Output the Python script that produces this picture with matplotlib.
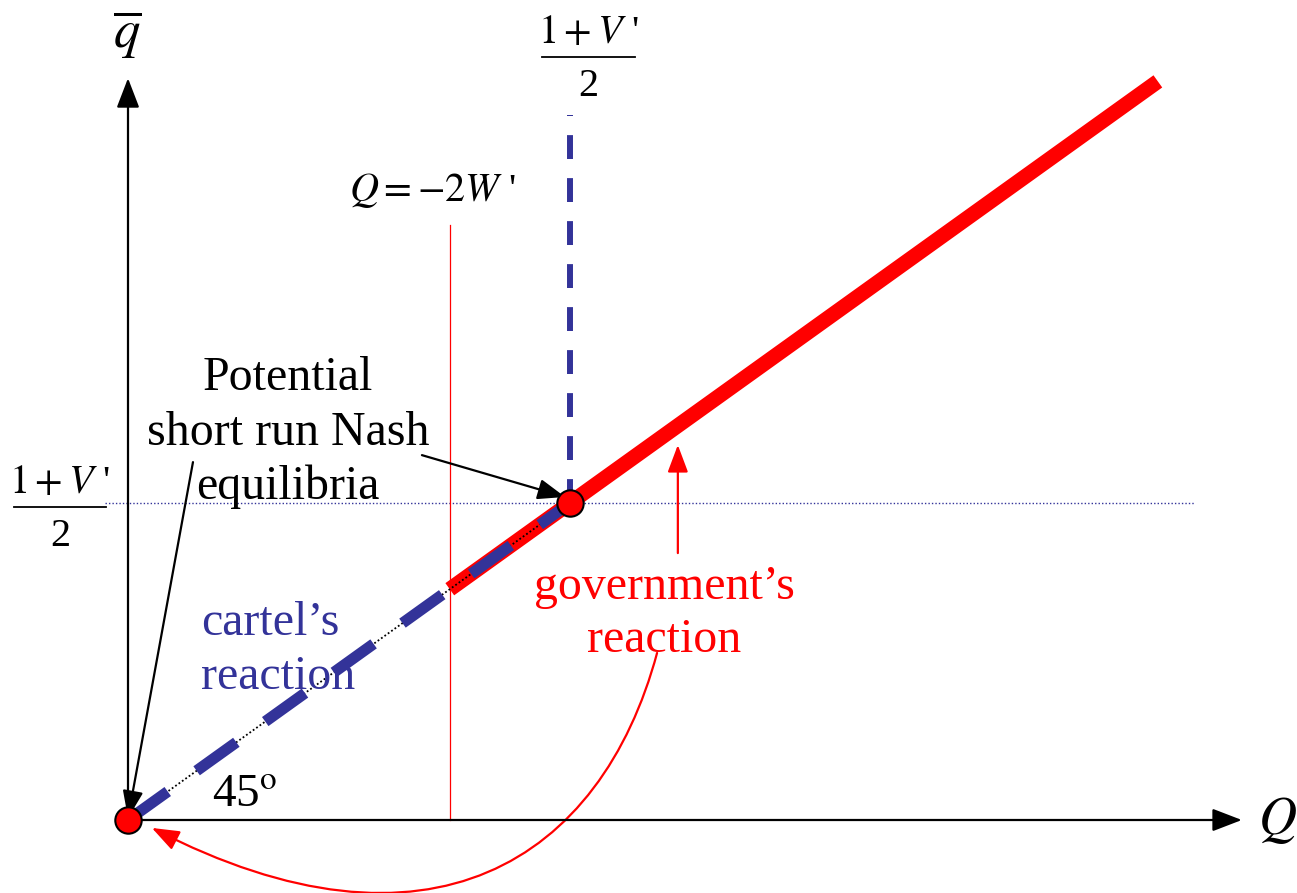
import matplotlib.pyplot as plt
from matplotlib.patches import FancyArrowPatch
from matplotlib.path import Path

plt.rcParams["font.family"] = ["Liberation Serif", "DejaVu Serif"]
plt.rcParams["mathtext.fontset"] = "stix"

BLUE = "#333399"
RED = "#ff0000"

# Data units: the Nash point sits at (1, 1), the 45 degree line is q = Q
axis_x_end = 2.52
axis_y_end = 2.34

cartel_x = [0.0, 1.0]
cartel_y = [0.0, 1.0]

gov_x = [0.728, 2.33]
gov_y = [0.728, 2.33]

constraint_x = [0.728, 0.728]
constraint_y = [0.0, 1.877]

nash_vert_x = [1.0, 1.0]
nash_vert_y = [1.0, 2.224]

nash_horiz_x = [-0.052, 2.414]
nash_horiz_y = [1.0, 1.0]

equilibria_x = [0.0, 1.0]
equilibria_y = [0.0, 1.0]

# curved arrow from "government's reaction" back to the origin
curve_pts = [(1.197, 0.527), (1.07, -0.13), (0.68, -0.475), (0.054, -0.025)]


def fraction(ax, x, y, num, den, size=29, half_width=0.105):
    # stacked fraction: numerator, bar, denominator
    ax.text(x, y + 0.045, num, fontsize=size, ha="center", va="baseline")
    ax.plot([x - half_width, x + half_width], [y, y], color="black", lw=1.3)
    ax.text(x, y - 0.035, den, fontsize=size, ha="center", va="top")


fig = plt.figure(figsize=(12.97, 8.93), dpi=100)
ax = fig.add_axes([0, 0, 1, 1])
ax.set_xlim(-128 / 442, (1297 - 128) / 442)
ax.set_ylim(-(893 - 820) / 317, 820 / 317)
ax.axis("off")

# axes with arrows
arrow_kw = dict(arrowstyle="-|>,head_length=1.3,head_width=0.5",
                color="black", lw=1.6, mutation_scale=14,
                shrinkA=0, shrinkB=0)
ax.annotate("", xy=(axis_x_end, 0), xytext=(0, 0), arrowprops=arrow_kw)
ax.annotate("", xy=(0, axis_y_end), xytext=(0, 0), arrowprops=arrow_kw)

# reference lines
ax.plot(nash_horiz_x, nash_horiz_y, color=BLUE, lw=1.0,
        linestyle=(0, (1, 1.5)))
ax.plot(constraint_x, constraint_y, color=RED, lw=0.9)
ax.plot(nash_vert_x, nash_vert_y, color=BLUE, lw=4.3,
        linestyle=(0, (4, 3.2)), dash_capstyle="butt")

# reaction functions
ax.plot(gov_x, gov_y, color=RED, lw=10.8, solid_capstyle="butt")
ax.plot(cartel_x, cartel_y, color="black", lw=1.3, linestyle=(0, (1, 1.3)))
ax.plot(cartel_x, cartel_y, color=BLUE, lw=8, linestyle=(0, (4.4, 3.2)),
        dash_capstyle="butt")

# equilibria
ax.plot(equilibria_x, equilibria_y, "o", markersize=19,
        markerfacecolor=RED, markeredgecolor="black",
        markeredgewidth=1.5, zorder=5)

# labels
ax.text(-0.002, 2.476, r"$\overline{q}$", fontsize=38,
        ha="center", va="center")
ax.text(2.6, 0.0, r"$Q$", fontsize=38, ha="center", va="center")
fraction(ax, 1.042, 2.407, r"$1+V$ '", r"2")
fraction(ax, -0.154, 0.987, r"$1+V$ '", r"2")
ax.text(0.69, 1.987, r"$Q=-2W$ '", fontsize=29,
        ha="center", va="center")
ax.text(0.19, 0.01, r"45$^{\rm o}$", fontsize=34,
        ha="left", va="bottom")

ax.text(0.362, 1.221, "Potential\nshort run Nash\nequilibria",
        fontsize=34.5, ha="center", va="center", linespacing=1.3)
ax.text(0.165, 0.536, "cartel\u2019s\nreaction", fontsize=34.5,
        color=BLUE, ha="left", va="center", linespacing=1.3)
ax.text(1.214, 0.652, "government\u2019s\nreaction", fontsize=34.5,
        color=RED, ha="center", va="center", linespacing=1.25)

# annotation arrows
black_kw = dict(arrowstyle="-|>,head_length=1.2,head_width=0.45",
                color="black", lw=1.6, mutation_scale=14,
                shrinkA=0, shrinkB=0)
ax.annotate("", xy=(0.989, 1.019), xytext=(0.665, 1.151),
            arrowprops=black_kw)
ax.annotate("", xy=(0.0, 0.006), xytext=(0.147, 1.129),
            arrowprops=black_kw)

red_kw = dict(arrowstyle="-|>,head_length=1.2,head_width=0.45",
              color=RED, lw=1.6, mutation_scale=14,
              shrinkA=0, shrinkB=0)
ax.annotate("", xy=(1.244, 1.183), xytext=(1.244, 0.842),
            arrowprops=red_kw)

curve = Path(curve_pts, [Path.MOVETO, Path.CURVE4, Path.CURVE4, Path.CURVE4])
ax.add_patch(FancyArrowPatch(path=curve,
                             arrowstyle="-|>,head_length=1.2,head_width=0.45",
                             color=RED, lw=1.6, mutation_scale=14))

fig.savefig("out.png", dpi=100)
plt.close(fig)
